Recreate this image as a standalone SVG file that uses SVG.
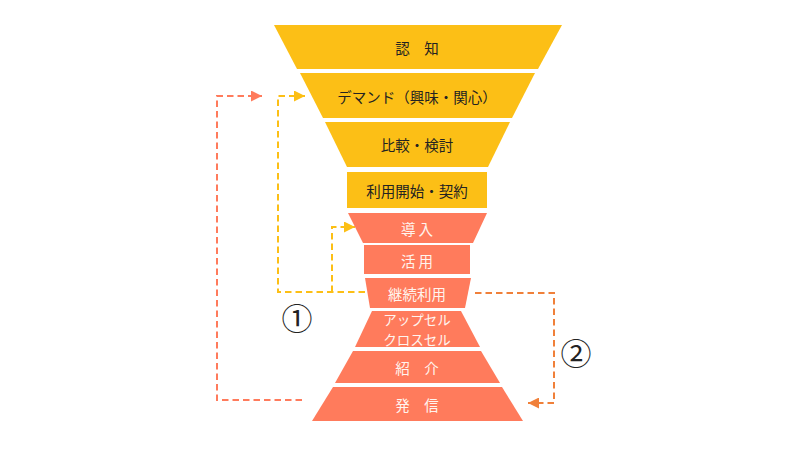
<svg xmlns="http://www.w3.org/2000/svg" width="800" height="451" viewBox="0 0 800 451">
<defs>
<style>
.y{fill:#FCBF16}
.o{fill:#FF7B5C}
text{font-family:"Noto Sans CJK JP","Noto Sans",sans-serif;font-size:14.5px;text-anchor:middle;dominant-baseline:central}
.tk{fill:#222222}
.tw{fill:#FFF4EE}
.sm{font-size:13.5px}
.c{fill:none;stroke-width:2;stroke-dasharray:6.5 4}
.cy{stroke:#FCBF16}
.cs{stroke:#FF7B5C}
.co{stroke:#F0803A}
.num{font-family:"Noto Sans CJK JP",sans-serif;font-size:31px;fill:#222}
</style>
<marker id="ay" viewBox="0 0 10 10" refX="10" refY="5" markerWidth="11" markerHeight="11" markerUnits="userSpaceOnUse" orient="auto"><path d="M0,0 L10,5 L0,10 z" fill="#FCBF16"/></marker>
<marker id="as" viewBox="0 0 10 10" refX="10" refY="5" markerWidth="11" markerHeight="11" markerUnits="userSpaceOnUse" orient="auto"><path d="M0,0 L10,5 L0,10 z" fill="#FF7B5C"/></marker>
<marker id="ao" viewBox="0 0 10 10" refX="10" refY="5" markerWidth="11" markerHeight="11" markerUnits="userSpaceOnUse" orient="auto"><path d="M0,0 L10,5 L0,10 z" fill="#F0803A"/></marker>
</defs>
<rect width="800" height="451" fill="#FFFFFF"/>
<g id="connectors">
<path class="c cy" d="M365,292 H278 V96 H305" marker-end="url(#ay)"/>
<path class="c cy" d="M332,292 V227 H355" marker-end="url(#ay)"/>
<path class="c cs" d="M302,400 H217 V96 H262" marker-end="url(#as)"/>
<path class="c co" d="M475,293 H554 V403 H528" marker-end="url(#ao)"/>
</g>
<g id="n1"><polygon class="y" points="274,25 562,25 538,69 297,69"/><text class="tk" x="417" y="47">認　知</text></g>
<g id="n2"><polygon class="y" points="300,73 535,73 512,118 323,118"/><text class="tk" x="417" y="96">デマンド（興味・関心）</text></g>
<g id="n3"><polygon class="y" points="325,122 510,122 488,167 347,167"/><text class="tk" x="417" y="144">比較・検討</text></g>
<g id="n4"><rect class="y" x="347" y="172" width="140" height="36"/><text class="tk" x="417" y="190">利用開始・契約</text></g>
<g id="n5"><polygon class="o" points="348,213 487,213 473,243 363,243"/><text class="tw" x="417" y="228">導 入</text></g>
<g id="n6"><rect class="o" x="364" y="245" width="106" height="29"/><text class="tw" x="417" y="260">活 用</text></g>
<g id="n7"><polygon class="o" points="365,278 471,278 465,308 370,308"/><text class="tw" x="417" y="293">継続利用</text></g>
<g id="n8"><polygon class="o" points="372,311 461,311 480,347 355,347"/><text class="tw sm" x="417" y="319">アップセル</text><text class="tw sm" x="417" y="339">クロスセル</text></g>
<g id="n9"><polygon class="o" points="353,351 481,351 500,383 335,383"/><text class="tw" x="417" y="367">紹　介</text></g>
<g id="n10"><polygon class="o" points="333,387 502,387 523,421 312,421"/><text class="tw" x="417" y="404">発　信</text></g>
<g id="label1"><text class="num" x="297" y="316">①</text></g>
<g id="label2"><text class="num" x="576" y="351">②</text></g>
</svg>
